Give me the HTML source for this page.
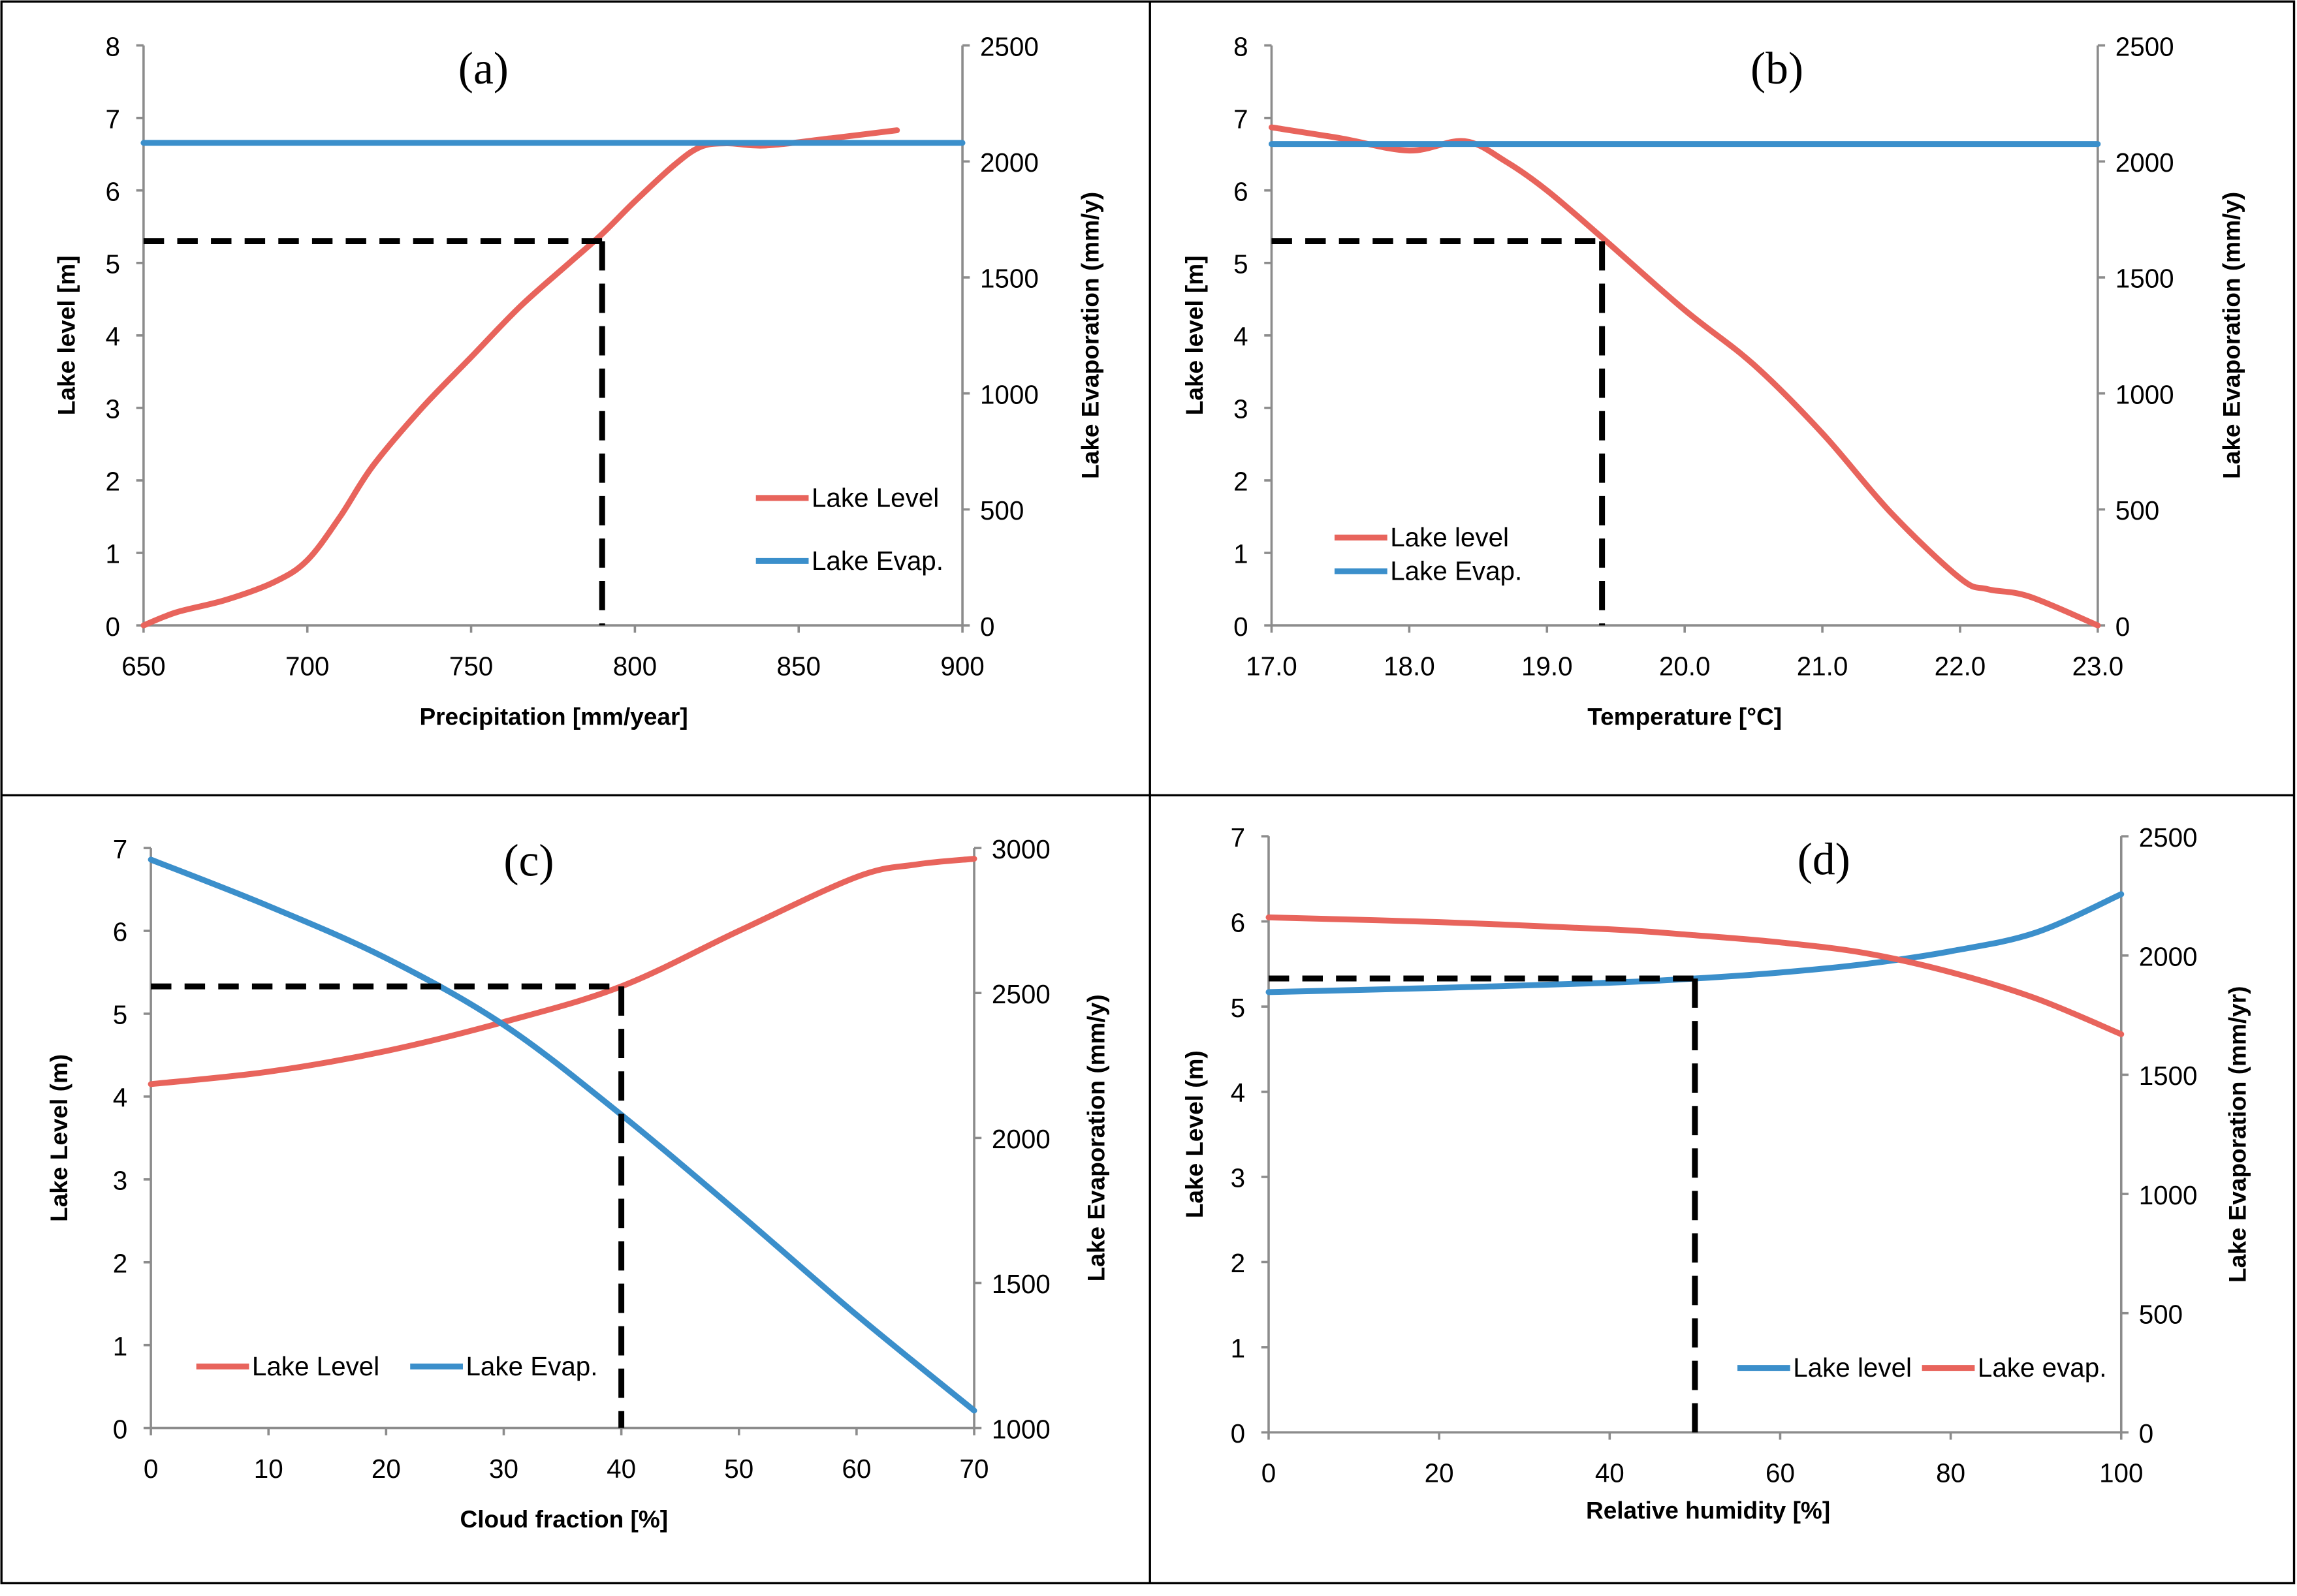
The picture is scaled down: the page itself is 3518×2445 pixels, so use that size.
<!DOCTYPE html>
<html><head><meta charset="utf-8">
<style>
html,body{margin:0;padding:0;background:#fff;}
svg{display:block;}
text{font-family:"Liberation Sans Narrow","Liberation Sans",sans-serif;fill:#000;}
.tick{font-size:18px;}
.atitle{font-size:16.5px;font-weight:bold;font-family:"Liberation Sans",sans-serif;}
.ptitle{font-size:31px;font-family:"Liberation Serif",serif;}
.leg{font-size:18px;}
</style></head>
<body>
<svg id="fig" width="3518" height="2445" viewBox="0 0 1568 1089.7" xmlns="http://www.w3.org/2000/svg">
<rect x="1" y="1" width="1565" height="1080" fill="none" stroke="#000" stroke-width="1.5"/>
<line x1="785" y1="1" x2="785" y2="1081" stroke="#000" stroke-width="1.5"/>
<line x1="1" y1="543" x2="1566" y2="543" stroke="#000" stroke-width="1.5"/>
</svg>
<script>
// Panel (a)
const aX=[650,660,675,690,700,710,720,735,750,765,780,790,800,812,820,828,840,860,880];
const aLevel=[0,0.18,0.35,0.6,0.9,1.5,2.2,3.0,3.7,4.4,5.0,5.4,5.85,6.35,6.6,6.65,6.62,6.72,6.83];
const aEvapX=[650,900];
const aEvap=[2080,2080];
const aXTicks=[650,700,750,800,850,900];
const aLTicks=[0,1,2,3,4,5,6,7,8];
const aRTicks=[0,500,1000,1500,2000,2500];
// Panel (b)
const bX=[17,17.5,18,18.4,18.7,19,19.4,20,20.5,21,21.5,22,22.2,22.5,23];
const bLevel=[6.87,6.72,6.55,6.68,6.4,6.0,5.35,4.35,3.6,2.65,1.55,0.65,0.5,0.4,0];
const bEvapX=[17,23];
const bEvap=[2075,2075];
const bXTicks=[17,18,19,20,21,22,23];
const bLTicks=[0,1,2,3,4,5,6,7,8];
const bRTicks=[0,500,1000,1500,2000,2500];
// Panel (c)
const cX=[0,10,20,30,40,50,60,65,70];
const cLevel=[4.15,4.3,4.55,4.9,5.33,6.0,6.65,6.8,6.87];
const cEvapX=[0,10,20,30,40,50,60,70];
const cEvap=[2960,2800,2620,2390,2080,1740,1390,1060];
const cXTicks=[0,10,20,30,40,50,60,70];
const cLTicks=[0,1,2,3,4,5,6,7];
const cRTicks=[1000,1500,2000,2500,3000];
// Panel (d)
const dX=[0,20,40,50,60,70,80,90,100];
const dLevel=[5.17,5.22,5.28,5.33,5.4,5.5,5.65,5.87,6.32];
const dEvapX=[0,20,40,50,60,70,80,90,100];
const dEvap=[2160,2140,2110,2085,2055,2010,1930,1820,1670];
const dXTicks=[0,20,40,60,80,100];
const dLTicks=[0,1,2,3,4,5,6,7];
const dRTicks=[0,500,1000,1500,2000,2500];

const NS="http://www.w3.org/2000/svg";
const svg=document.getElementById('fig');
const RED="#e8645c", BLUE="#3b8fcb", GRAY="#8c8c8c";
function mk(tag,attrs,parent){const e=document.createElementNS(NS,tag);for(const k in attrs)e.setAttribute(k,attrs[k]);(parent||svg).appendChild(e);return e;}
function smooth(pts){
  let d="M"+pts[0][0]+","+pts[0][1];
  for(let i=0;i<pts.length-1;i++){
    const p0=pts[Math.max(0,i-1)],p1=pts[i],p2=pts[i+1],p3=pts[Math.min(pts.length-1,i+2)];
    const c1=[p1[0]+(p2[0]-p0[0])/6,p1[1]+(p2[1]-p0[1])/6];
    const c2=[p2[0]-(p3[0]-p1[0])/6,p2[1]-(p3[1]-p1[1])/6];
    d+=" C"+c1[0]+","+c1[1]+" "+c2[0]+","+c2[1]+" "+p2[0]+","+p2[1];
  }
  return d;
}
function panel(o){
  const g=mk('g',{});
  
  
  const sx=v=>o.L+(v-o.xmin)/(o.xmax-o.xmin)*(o.R-o.L);
  const sy=v=>o.B-(v-o.ymin)/(o.ymax-o.ymin)*(o.B-o.T);
  const sr=v=>o.B-(v-o.rmin)/(o.rmax-o.rmin)*(o.B-o.T);
  const la=mk('line',{x1:o.L,y1:o.T,x2:o.L,y2:o.B,stroke:GRAY,'stroke-width':1.6},g);
  
  const ra=mk('line',{x1:o.R,y1:o.T,x2:o.R,y2:o.B,stroke:GRAY,'stroke-width':1.6},g);
  
  const xa=mk('line',{x1:o.L,y1:o.B,x2:o.R,y2:o.B,stroke:GRAY,'stroke-width':1.6},g);
  
  o.xt.forEach(v=>{
    const x=sx(v);
    mk('line',{x1:x,y1:o.B,x2:x,y2:o.B+5,stroke:GRAY,'stroke-width':1.6},g);
    const t=mk('text',{x:x,y:o.B+34,'text-anchor':'middle',class:'tick'},g);
    
    t.textContent=o.xfmt?o.xfmt(v):v;
  });
  o.lt.forEach(v=>{
    const y=sy(v);
    mk('line',{x1:o.L-5,y1:y,x2:o.L,y2:y,stroke:GRAY,'stroke-width':1.6},g);
    const t=mk('text',{x:o.L-16,y:y+7,'text-anchor':'end',class:'tick'},g);
    
    t.textContent=v;
  });
  o.rt.forEach(v=>{
    const y=sr(v);
    mk('line',{x1:o.R,y1:y,x2:o.R+5,y2:y,stroke:GRAY,'stroke-width':1.6},g);
    const t=mk('text',{x:o.R+12,y:y+7,'text-anchor':'start',class:'tick'},g);
    
    t.textContent=v;
  });
  const pt=mk('text',{x:o.tx,y:o.ty,'text-anchor':'middle',class:'ptitle'},g);
  
  pt.textContent='('+o.id+')';
  const xt=mk('text',{x:o.xlx,y:o.xly,'text-anchor':'middle',class:'atitle'},g);
  
  xt.textContent=o.xlabel;
  const cy=(o.T+o.B)/2;
  const lt=mk('text',{x:0,y:0,'text-anchor':'middle',class:'atitle',transform:`translate(${o.llx},${cy}) rotate(-90)`},g);
  
  lt.textContent=o.llabel;
  const rtt=mk('text',{x:0,y:0,'text-anchor':'middle',class:'atitle',transform:`translate(${o.rlx},${cy}) rotate(-90)`},g);
  
  rtt.textContent=o.rlabel;
  o.series.forEach(s=>{
    const pts=s.x.map((v,i)=>[sx(v),(s.axis==='r'?sr:sy)(s.y[i])]);
    const p=mk('path',{d:smooth(pts),fill:'none',stroke:s.color,'stroke-width':4,'stroke-linecap':'round'},g);
    
  });
  const dx=sx(o.dash[0]),dy=sy(o.dash[1]);
  const dh=mk('line',{x1:o.L,y1:dy,x2:dx,y2:dy,stroke:'#000','stroke-width':4,'stroke-dasharray':'14,9'},g);
  
  const dv=mk('line',{x1:dx,y1:dy,x2:dx,y2:o.B,stroke:'#000','stroke-width':4,'stroke-dasharray':'20,9'},g);
  
  o.legend.forEach(l=>{
    const lg=mk('g',{},g);
    
    mk('line',{x1:l.x,y1:l.y,x2:l.x+36,y2:l.y,stroke:l.color,'stroke-width':4},lg);
    const t=mk('text',{x:l.x+38,y:l.y+6,class:'leg'},lg);
    t.textContent=l.label;
  });
}
panel({id:'a',L:98,R:657,T:31,B:427,xmin:650,xmax:900,ymin:0,ymax:8,rmin:0,rmax:2500,
  xt:aXTicks,lt:aLTicks,rt:aRTicks,tx:330,ty:57,xlx:378,xly:495,llx:51,rlx:750,
  xlabel:'Precipitation [mm/year]',llabel:'Lake level [m]',rlabel:'Lake Evaporation (mm/y)',
  series:[{x:aX,y:aLevel,color:RED,name:'lake-level-line'},{x:aEvapX,y:aEvap,axis:'r',color:BLUE,name:'lake-evap-line'}],
  dash:[790,5.3],
  legend:[{x:516,y:340,color:RED,label:'Lake Level'},{x:516,y:383,color:BLUE,label:'Lake Evap.'}]});
panel({id:'b',L:868,R:1432,T:31,B:427,xmin:17,xmax:23,ymin:0,ymax:8,rmin:0,rmax:2500,
  xt:bXTicks,lt:bLTicks,rt:bRTicks,xfmt:v=>v.toFixed(1),tx:1213,ty:57,xlx:1150,xly:495,llx:821,rlx:1529,
  xlabel:'Temperature [°C]',llabel:'Lake level [m]',rlabel:'Lake Evaporation (mm/y)',
  series:[{x:bX,y:bLevel,color:RED,name:'lake-level-line'},{x:bEvapX,y:bEvap,axis:'r',color:BLUE,name:'lake-evap-line'}],
  dash:[19.4,5.3],
  legend:[{x:911,y:367,color:RED,label:'Lake level'},{x:911,y:390,color:BLUE,label:'Lake Evap.'}]});
panel({id:'c',L:103,R:665,T:579,B:975,xmin:0,xmax:70,ymin:0,ymax:7,rmin:1000,rmax:3000,
  xt:cXTicks,lt:cLTicks,rt:cRTicks,tx:361,ty:598,xlx:385,xly:1043,llx:46,rlx:754,
  xlabel:'Cloud fraction [%]',llabel:'Lake Level (m)',rlabel:'Lake Evaporation (mm/y)',
  series:[{x:cX,y:cLevel,color:RED,name:'lake-level-line'},{x:cEvapX,y:cEvap,axis:'r',color:BLUE,name:'lake-evap-line'}],
  dash:[40,5.33],
  legend:[{x:134,y:933,color:RED,label:'Lake Level'},{x:280,y:933,color:BLUE,label:'Lake Evap.'}]});
panel({id:'d',L:866,R:1448,T:571,B:978,xmin:0,xmax:100,ymin:0,ymax:7,rmin:0,rmax:2500,
  xt:dXTicks,lt:dLTicks,rt:dRTicks,tx:1245,ty:597,xlx:1166,xly:1037,llx:821,rlx:1533,
  xlabel:'Relative humidity [%]',llabel:'Lake Level (m)',rlabel:'Lake Evaporation (mm/yr)',
  series:[{x:dX,y:dLevel,color:BLUE,name:'lake-level-line'},{x:dEvapX,y:dEvap,axis:'r',color:RED,name:'lake-evap-line'}],
  dash:[50,5.33],
  legend:[{x:1186,y:934,color:BLUE,label:'Lake level'},{x:1312,y:934,color:RED,label:'Lake evap.'}]});
</script>
</body></html>
